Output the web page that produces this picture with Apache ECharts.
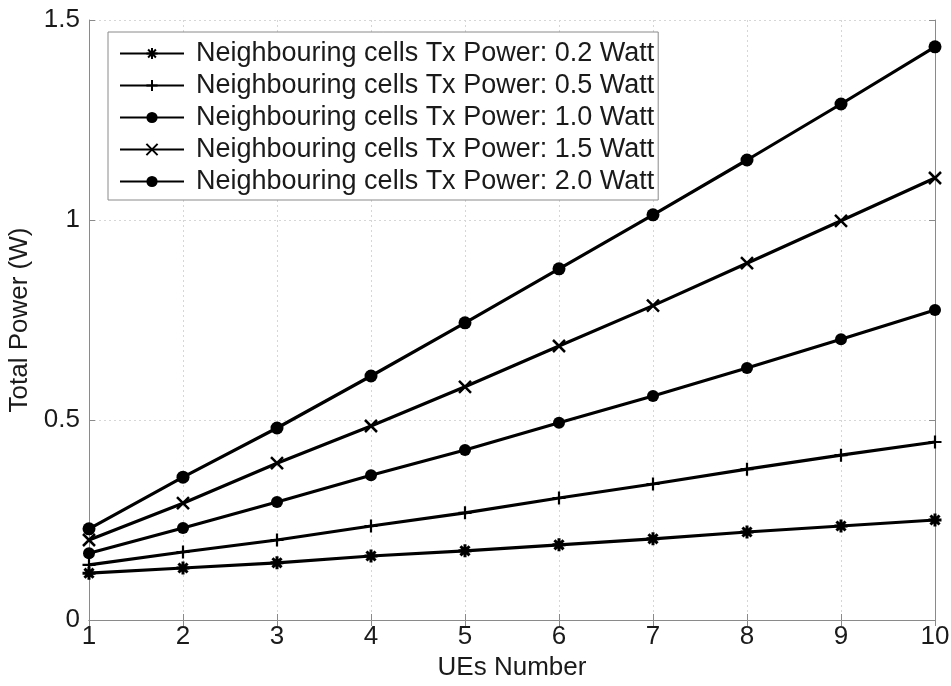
<!DOCTYPE html>
<html>
<head>
<meta charset="utf-8">
<script src="https://cdn.jsdelivr.net/npm/echarts@6/dist/echarts.min.js"></script>
<style>
  html, body { margin: 0; padding: 0; background: #fff; }
  #chart { width: 951px; height: 686px; }
</style>
</head>
<body>
<div id="chart"></div>
<script>
// Number of UEs (x axis)
const ueNumbers = [1, 2, 3, 4, 5, 6, 7, 8, 9, 10];

// Total power (W) for each neighbouring-cell Tx power setting
const power02 = [0.117, 0.130, 0.143, 0.160, 0.173, 0.188, 0.203, 0.220, 0.235, 0.250];
const power05 = [0.138, 0.170, 0.200, 0.235, 0.268, 0.305, 0.340, 0.377, 0.412, 0.445];
const power10 = [0.167, 0.230, 0.295, 0.362, 0.425, 0.493, 0.560, 0.630, 0.702, 0.775];
const power15 = [0.200, 0.292, 0.392, 0.485, 0.583, 0.685, 0.786, 0.892, 0.998, 1.105];
const power20 = [0.228, 0.357, 0.480, 0.610, 0.743, 0.878, 1.013, 1.150, 1.290, 1.433];

const seriesNames = [
  'Neighbouring cells Tx Power: 0.2 Watt',
  'Neighbouring cells Tx Power: 0.5 Watt',
  'Neighbouring cells Tx Power: 1.0 Watt',
  'Neighbouring cells Tx Power: 1.5 Watt',
  'Neighbouring cells Tx Power: 2.0 Watt'
];

const yTicks = [0, 0.5, 1, 1.5];

const FONT = 'Liberation Sans, Arial, Helvetica, sans-serif';
const AXIS_GREY = '#8a8a8a';
const TEXT = '#1a1a1a';

const markers = [
  { symbol: 'path://M5,0L5,10M0,5L10,5M1.5,1.5L8.5,8.5M8.5,1.5L1.5,8.5', size: 13, border: 3 },
  { symbol: 'path://M5,0L5,10M0,5L10,5', size: 13, border: 2.2 },
  { symbol: 'circle', size: 12, border: 0 },
  { symbol: 'path://M0,0L10,10M10,0L0,10', size: 12, border: 2.5 },
  { symbol: 'circle', size: 13, border: 0 }
];

const values = [power02, power05, power10, power15, power20];

const series = values.map((vals, i) => ({
  name: seriesNames[i],
  type: 'line',
  data: ueNumbers.map((x, k) => [x, vals[k]]),
  symbol: markers[i].symbol,
  symbolSize: markers[i].size,
  showAllSymbol: true,
  lineStyle: { color: '#000', width: 3.2 },
  itemStyle: { color: '#000', borderColor: '#000', borderWidth: markers[i].border },
  emphasis: { disabled: true },
  animation: false,
  z: 5
}));

const chart = echarts.init(document.getElementById('chart'), null, { renderer: 'canvas' });

chart.setOption({
  backgroundColor: '#fff',
  animation: false,
  textStyle: { fontFamily: FONT },
  grid: {
    left: 89, right: 16, top: 20, bottom: 66,
    containLabel: false, outerBoundsMode: 'none'
  },
  legend: {
    orient: 'vertical',
    left: 108,
    top: 32,
    itemWidth: 64,
    itemHeight: 14,
    itemGap: 5,
    padding: [8, 4, 5, 11],
    backgroundColor: '#fff',
    borderColor: AXIS_GREY,
    borderWidth: 1,
    textStyle: { fontSize: 27, color: TEXT, fontFamily: FONT, padding: [0, 0, 0, 7] },
    data: seriesNames
  },
  xAxis: [
    {
      type: 'value', min: 1, max: 10, interval: 1,
      name: 'UEs Number', nameLocation: 'middle', nameGap: 35,
      nameMoveOverlap: false,
      nameTextStyle: { fontSize: 26, color: TEXT, fontFamily: FONT },
      axisLine: { show: true, lineStyle: { color: AXIS_GREY, width: 1 } },
      axisTick: { show: true, inside: true, length: 6, lineStyle: { color: AXIS_GREY } },
      axisLabel: { fontSize: 26, color: TEXT, margin: 4, fontFamily: FONT },
      splitLine: { show: true, lineStyle: { color: '#d6d6d6', type: [2, 3], width: 1 } }
    },
    {
      type: 'value', min: 1, max: 10, interval: 1, position: 'top',
      axisLine: { show: true, lineStyle: { color: AXIS_GREY, width: 1 } },
      axisTick: { show: true, inside: true, length: 6, lineStyle: { color: AXIS_GREY } },
      axisLabel: { show: false },
      splitLine: { show: false }
    }
  ],
  yAxis: [
    {
      type: 'value', min: 0, max: 1.5, interval: 0.5,
      name: 'Total Power (W)', nameLocation: 'middle', nameGap: 56,
      nameMoveOverlap: false,
      nameTextStyle: { fontSize: 26, color: TEXT, fontFamily: FONT },
      axisLine: { show: true, lineStyle: { color: AXIS_GREY, width: 1 } },
      axisTick: { show: true, inside: true, length: 6, lineStyle: { color: AXIS_GREY } },
      axisLabel: {
        fontSize: 26, color: TEXT, margin: 9, fontFamily: FONT,
        formatter: v => (yTicks.includes(v) ? String(v) : '')
      },
      splitLine: { show: true, lineStyle: { color: '#d6d6d6', type: [2, 3], width: 1 } }
    },
    {
      type: 'value', min: 0, max: 1.5, interval: 0.5, position: 'right',
      axisLine: { show: true, lineStyle: { color: AXIS_GREY, width: 1 } },
      axisTick: { show: true, inside: true, length: 6, lineStyle: { color: AXIS_GREY } },
      axisLabel: { show: false },
      splitLine: { show: false }
    }
  ],
  series: series
});
</script>
</body>
</html>
